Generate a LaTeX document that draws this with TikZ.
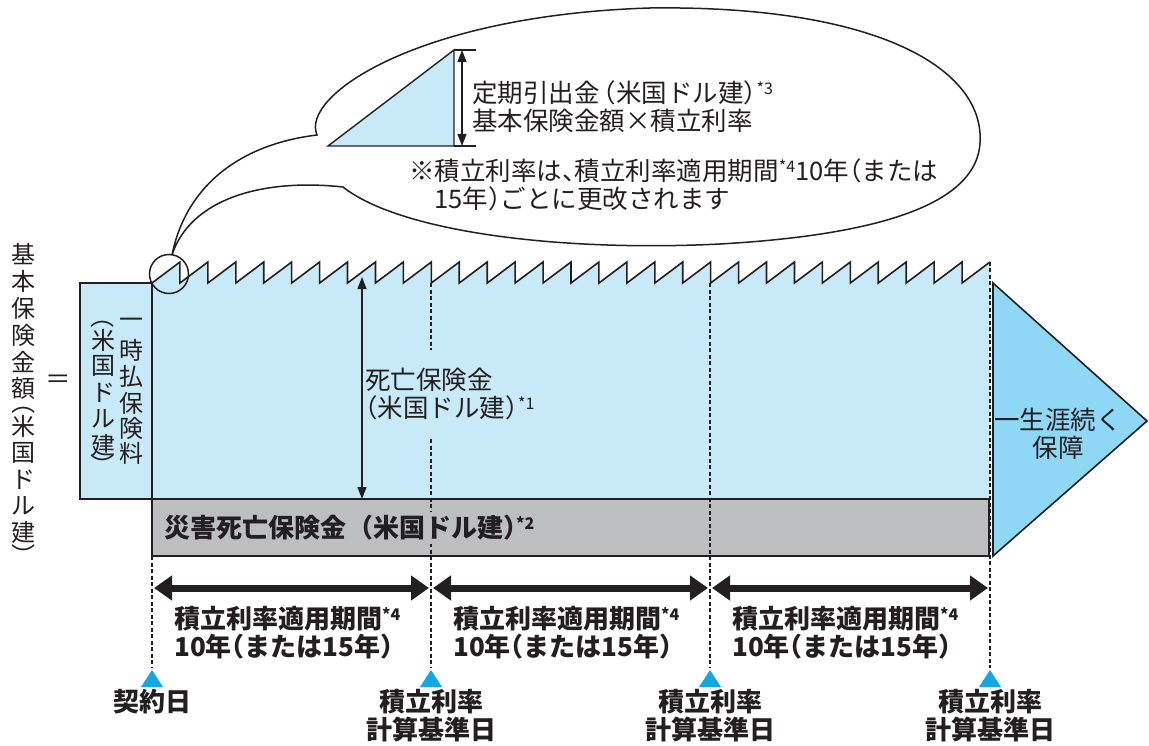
\documentclass[tikz,border=0pt]{standalone}
\usepackage{fontspec}
\newfontfamily\jp{Noto Sans CJK JP}[RawFeature=+halt]
\newfontfamily\jpv{Noto Sans CJK JP}
\usetikzlibrary{arrows.meta}
\definecolor{lblue}{HTML}{C7E9F8}
\definecolor{mblue}{HTML}{8ED8F6}
\definecolor{cblue}{HTML}{14A8E3}
\definecolor{gbar}{HTML}{BDBEC0}
\definecolor{ink}{HTML}{231F20}
\newcommand\sups[1]{\raisebox{0.32em}{\fontsize{16}{16}\selectfont #1}}
\begin{document}
\begin{tikzpicture}[x=1pt,y=-1pt,
  outl/.style={draw=ink,line width=1.6pt},
  dashl/.style={draw=ink,line width=1.1pt,dash pattern=on 4pt off 2.5pt},
  txt/.style={text=ink,inner sep=0pt,font=\jp\fontsize{25.5}{28}\selectfont},
  btxt/.style={text=ink,inner sep=0pt,font=\jp\bfseries\fontsize{26}{28}\selectfont},
  vtxt/.style={text=ink,inner sep=0pt,font=\jpv\fontsize{24}{26}\selectfont},
  vparen/.style={vtxt,rotate=-90},
  periodarrow/.style={draw=ink,line width=7pt,{Triangle[length=18pt,width=24pt]}-{Triangle[length=18pt,width=24pt]}},
  thinarrow/.style={draw=ink,line width=1.4pt,{Triangle[length=12pt,width=9pt]}-{Triangle[length=12pt,width=9pt]}},
  datetri/.style={fill=cblue,draw=none},
]
\useasboundingbox (0,0) rectangle (1149,746);

% blue body
\fill[lblue] (152,499) -- (152,283) foreach \i in {1,...,30}{ -- ({152+27.933*\i},262) -- ({152+27.933*\i},283)} -- (990,499) -- cycle;
% left box
\draw[outl,fill=lblue] (80,283) rectangle (152,499);
% gray box
\draw[outl,fill=gbar] (152,499) rectangle (989,556);

% date markers
\coordinate (m0) at (152,668);
\coordinate (m1) at (431,668);
\coordinate (m2) at (710,668);
\coordinate (m3) at (990,668);
\draw[dashl] (152,556) -- (m0);
\draw[dashl] (431,283) -- (m1);
\draw[dashl] (710,283) -- (m2);
\draw[dashl] (990,262) -- (m3);
\foreach \m in {m0,m1,m2,m3}{
  \fill[datetri] ([yshift=-2pt]\m) -- ++(11,17) -- ++(-22,0) -- cycle;
}

% sawtooth
\draw[outl,line join=miter] (152,283) foreach \i in {1,...,29}{ -- ({152+27.933*\i},262) -- ({152+27.933*\i},283)} -- (990,262);

% right triangle
\draw[outl,fill=mblue,line join=miter] (993,283) -- (1147,421) -- (993,556) -- cycle;
\node[txt,align=center] (life) at (1058,434) {一生涯続く\\保障};

% death benefit
\node[txt,fill=lblue,align=left,anchor=west,inner xsep=1pt,inner ysep=18pt] (death) at (364,394) {死亡保険金\\（米国ドル建）\sups{*1}};
\coordinate (dtop) at (362,277);
\coordinate (dbot) at (362,499);
\draw[thinarrow] (dtop) -- (dbot);

% accidental death
\node[btxt,fill=gbar,anchor=west,inner xsep=0pt,inner ysep=3pt] (acc) at (164,528) {災害死亡保険金\hspace{14pt}（米国ドル建）\sups{*2}};

% left vertical texts
\foreach \c/\y in {基/254,本/281,保/308,険/335,金/362,額/388,米/426,国/453,ド/480,ル/506,建/532}{
  \node[vtxt] (b\y) at (24,\y) {\c};
}
\node[vparen] (bpo) at (24,402) {（};
\node[vparen] (bpc) at (24,555) {）};
\node[txt] (eq) at (58,382) {＝};
\foreach \c/\y in {一/323,時/350,払/376,保/403,険/428,料/453}{
  \node[vtxt] (pa\y) at (131,\y) {\c};
}
\foreach \c/\y in {米/340,国/366,ド/393,ル/419,建/445}{
  \node[vtxt] (pb\y) at (103,\y) {\c};
}
\node[vparen] (pbo) at (103,317) {（};
\node[vparen] (pbc) at (103,465) {）};

% period arrows
\coordinate (p0) at (152,588);
\coordinate (p1) at (431,588);
\coordinate (p2) at (710,588);
\coordinate (p3) at (990,588);
\draw[periodarrow] ([xshift=2pt]p0) -- ([xshift=-2pt]p1);
\draw[periodarrow] ([xshift=2pt]p1) -- ([xshift=-2pt]p2);
\draw[periodarrow] ([xshift=2pt]p2) -- ([xshift=-2pt]p3);
\node[btxt,align=left,anchor=west] (per1) at (174,633) {積立利率適用期間\sups{*4}\\10年（または15年）};
\node[btxt,align=left,anchor=west] (per2) at (453,633) {積立利率適用期間\sups{*4}\\10年（または15年）};
\node[btxt,align=left,anchor=west] (per3) at (732,633) {積立利率適用期間\sups{*4}\\10年（または15年）};

% date labels
\node[btxt,anchor=north] (d0) at (152,689) {契約日};
\node[btxt,align=center,anchor=north] (d1) at (431,689) {積立利率\\計算基準日};
\node[btxt,align=center,anchor=north] (d2) at (710,689) {積立利率\\計算基準日};
\node[btxt,align=center,anchor=north] (d3) at (990,689) {積立利率\\計算基準日};

% speech bubble
\coordinate (T) at (172,255);
\coordinate (U) at (317,135);
\coordinate (L) at (343,187);
\draw[draw=ink,line width=1.5pt] (T) .. controls (185,190) and (235,145) .. (U)
  .. controls (300,95) and (420,15) .. (650,8)
  .. controls (880,5) and (985,70) .. (980,143)
  .. controls (976,210) and (860,236) .. (720,244)
  .. controls (560,252) and (400,232) .. (L)
  .. controls (260,178) and (190,200) .. (T);
\draw[draw=ink,line width=1.5pt] (169,274) circle (19.5);

% withdrawal triangle
\draw[draw=ink,line width=1.4pt,fill=lblue,line join=miter] (328,146) -- (454,50) -- (454,146) -- cycle;
\draw[draw=ink,line width=1.4pt] (454,50) -- (476,50) (454,146) -- (476,146);
\coordinate (wtop) at (462,50);
\coordinate (wbot) at (462,146);
\draw[thinarrow,line width=1.1pt] (wtop) -- (wbot);
\node[txt,align=left,anchor=west] (wd) at (472,107) {定期引出金\hspace{4pt}（米国ドル建）\sups{*3}\\基本保険金額×積立利率};
\node[txt,align=left,anchor=west] (note) at (409,185) {※積立利率は、積立利率適用期間\sups{*4}10年（または\\\hspace*{25pt}15年）ごとに更改されます};
\end{tikzpicture}
\end{document}
